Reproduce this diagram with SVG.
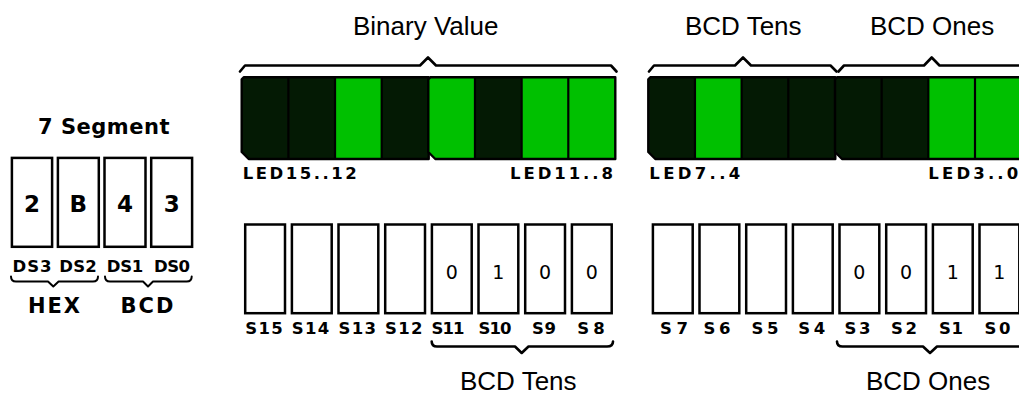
<svg xmlns="http://www.w3.org/2000/svg" width="1019" height="394" viewBox="0 0 1019 394">
<style>
.title{font-family:"Liberation Sans",Arial,sans-serif;font-size:26px;fill:#000}
.px{font-family:"DejaVu Sans","Liberation Sans",sans-serif;font-weight:bold;font-size:16.5px;fill:#000}
.big{font-family:"DejaVu Sans","Liberation Sans",sans-serif;font-weight:bold;fill:#000}
.dig{font-family:"DejaVu Sans","Liberation Sans",sans-serif;fill:#000;text-anchor:middle}
.box{fill:#fff;stroke:#000;stroke-width:2.5}
.brace{fill:none;stroke:#000;stroke-width:2.6;stroke-linejoin:round;stroke-linecap:round}
.off{fill:#041a04}
.on{fill:#00c000}
.div{stroke:#000;stroke-width:2.2}
.outline{fill:none;stroke:#000;stroke-width:2.4;stroke-linejoin:round}
</style>
<defs>
<clipPath id="ledclip"><path d="M2,0 H187 V81.7 H7 L0,74.7 V2 Z"/></clipPath>
<path id="ledshape" d="M2,0 H187 V81.7 H7 L0,74.7 V2 Z"/>
</defs>
<rect width="1019" height="394" fill="#fff"/>

<!-- titles -->
<g id="titles">
<text class="title" x="353" y="34.5">Binary Value</text>
<text class="title" x="685" y="35">BCD Tens</text>
<text class="title" x="870" y="35">BCD Ones</text>
<text class="title" x="460" y="390">BCD Tens</text>
<text class="title" x="866" y="390">BCD Ones</text>
</g>

<!-- 7 segment -->
<g id="seven-seg-title"><text class="big" x="104" y="134" font-size="21" text-anchor="middle" letter-spacing="0.5">7 Segment</text></g>
<g id="ds3"><rect class="box" x="11.9" y="157.9" width="40.2" height="88.9"/><text class="dig" x="32" y="212" font-size="23" font-weight="bold">2</text><text class="px" x="32" y="271.5" text-anchor="middle" textLength="39" lengthAdjust="spacing">DS3</text></g>
<g id="ds2"><rect class="box" x="57.9" y="157.9" width="40.9" height="88.9"/><text class="dig" x="78.3" y="212" font-size="23" font-weight="bold">B</text><text class="px" x="78" y="271.5" text-anchor="middle" textLength="37.4" lengthAdjust="spacing">DS2</text></g>
<g id="ds1"><rect class="box" x="104.5" y="157.9" width="41" height="88.9"/><text class="dig" x="125" y="212" font-size="23" font-weight="bold">4</text><text class="px" x="125" y="271.5" text-anchor="middle" textLength="36.7" lengthAdjust="spacing">DS1</text></g>
<g id="ds0"><rect class="box" x="151.2" y="157.9" width="40.9" height="88.9"/><text class="dig" x="171.7" y="212" font-size="23" font-weight="bold">3</text><text class="px" x="172" y="271.5" text-anchor="middle" textLength="36" lengthAdjust="spacing">DS0</text></g>
<g id="hex-label"><text class="big" x="55" y="313" font-size="21" text-anchor="middle" letter-spacing="2">HEX</text></g>
<g id="bcd-label"><text class="big" x="148" y="313" font-size="21" text-anchor="middle" letter-spacing="2">BCD</text></g>

<!-- LED groups -->
<g id="led15-12" transform="translate(241.7,77.3)">
<g clip-path="url(#ledclip)">
<rect class="off" x="0" y="0" width="46.67" height="82"/>
<rect class="off" x="46.67" y="0" width="46.67" height="82"/>
<rect class="on" x="93.33" y="0" width="46.67" height="82"/>
<rect class="off" x="140" y="0" width="47" height="82"/>
</g>
<line class="div" x1="46.67" y1="0" x2="46.67" y2="81.7"/>
<line class="div" x1="93.33" y1="0" x2="93.33" y2="81.7"/>
<line class="div" x1="140" y1="0" x2="140" y2="81.7"/>
<use href="#ledshape" class="outline"/>
</g>
<g id="led11-8" transform="translate(428.3,77.3)">
<g clip-path="url(#ledclip)">
<rect class="on" x="0" y="0" width="46.67" height="82"/>
<rect class="off" x="46.67" y="0" width="46.67" height="82"/>
<rect class="on" x="93.33" y="0" width="46.67" height="82"/>
<rect class="on" x="140" y="0" width="48" height="82"/>
</g>
<line class="div" x1="46.67" y1="0" x2="46.67" y2="81.7"/>
<line class="div" x1="93.33" y1="0" x2="93.33" y2="81.7"/>
<line class="div" x1="140" y1="0" x2="140" y2="81.7"/>
<use href="#ledshape" class="outline"/>
</g>
<g id="led7-4" transform="translate(648.3,77.3)">
<g clip-path="url(#ledclip)">
<rect class="off" x="0" y="0" width="46.67" height="82"/>
<rect class="on" x="46.67" y="0" width="46.67" height="82"/>
<rect class="off" x="93.33" y="0" width="46.67" height="82"/>
<rect class="off" x="140" y="0" width="47" height="82"/>
</g>
<line class="div" x1="46.67" y1="0" x2="46.67" y2="81.7"/>
<line class="div" x1="93.33" y1="0" x2="93.33" y2="81.7"/>
<line class="div" x1="140" y1="0" x2="140" y2="81.7"/>
<use href="#ledshape" class="outline"/>
</g>
<g id="led3-0" transform="translate(835,77.3)">
<g clip-path="url(#ledclip)">
<rect class="off" x="0" y="0" width="46.67" height="82"/>
<rect class="off" x="46.67" y="0" width="46.67" height="82"/>
<rect class="on" x="93.33" y="0" width="46.67" height="82"/>
<rect class="on" x="140" y="0" width="47" height="82"/>
</g>
<line class="div" x1="46.67" y1="0" x2="46.67" y2="81.7"/>
<line class="div" x1="93.33" y1="0" x2="93.33" y2="81.7"/>
<line class="div" x1="140" y1="0" x2="140" y2="81.7"/>
<use href="#ledshape" class="outline"/>
</g>
<g id="led-labels">
<text class="px" x="242.7" y="178.5" textLength="114" lengthAdjust="spacing">LED15..12</text>
<text class="px" x="510" y="178.5" textLength="103" lengthAdjust="spacing">LED11..8</text>
<text class="px" x="649.3" y="178.5" textLength="91" lengthAdjust="spacing">LED7..4</text>
<text class="px" x="928.3" y="178.5" textLength="90" lengthAdjust="spacing">LED3..0</text>
</g>

<!-- switches -->
<g id="s15"><rect class="box" x="245.2" y="224.5" width="39.8" height="88.7"/><text class="px" x="264" y="334" text-anchor="middle" textLength="37.5" lengthAdjust="spacing">S15</text></g>
<g id="s14"><rect class="box" x="291.9" y="224.5" width="39.8" height="88.7"/><text class="px" x="310.5" y="334" text-anchor="middle" textLength="37.5" lengthAdjust="spacing">S14</text></g>
<g id="s13"><rect class="box" x="338.5" y="224.5" width="39.8" height="88.7"/><text class="px" x="357.2" y="334" text-anchor="middle" textLength="37.5" lengthAdjust="spacing">S13</text></g>
<g id="s12"><rect class="box" x="385.2" y="224.5" width="39.8" height="88.7"/><text class="px" x="403.8" y="334" text-anchor="middle" textLength="37.5" lengthAdjust="spacing">S12</text></g>
<g id="s11"><rect class="box" x="431.9" y="224.5" width="39.8" height="88.7"/><text class="dig" x="451.8" y="279" font-size="19">0</text><text class="px" x="448" y="334" text-anchor="middle" textLength="33" lengthAdjust="spacing">S11</text></g>
<g id="s10"><rect class="box" x="478.5" y="224.5" width="39.8" height="88.7"/><text class="dig" x="498.4" y="279" font-size="19">1</text><text class="px" x="495" y="334" text-anchor="middle" textLength="33" lengthAdjust="spacing">S10</text></g>
<g id="s9"><rect class="box" x="525.2" y="224.5" width="39.8" height="88.7"/><text class="dig" x="545.1" y="279" font-size="19">0</text><text class="px" x="544" y="334" text-anchor="middle" textLength="24" lengthAdjust="spacing">S9</text></g>
<g id="s8"><rect class="box" x="571.9" y="224.5" width="39.8" height="88.7"/><text class="dig" x="591.8" y="279" font-size="19">0</text><text class="px" x="591" y="334" text-anchor="middle" textLength="27.5" lengthAdjust="spacing">S8</text></g>
<g id="s7"><rect class="box" x="652.9" y="224.5" width="39.8" height="88.7"/><text class="px" x="674" y="334" text-anchor="middle" textLength="28" lengthAdjust="spacing">S7</text></g>
<g id="s6"><rect class="box" x="699.5" y="224.5" width="39.8" height="88.7"/><text class="px" x="717" y="334" text-anchor="middle" textLength="27" lengthAdjust="spacing">S6</text></g>
<g id="s5"><rect class="box" x="746.2" y="224.5" width="39.8" height="88.7"/><text class="px" x="765" y="334" text-anchor="middle" textLength="27" lengthAdjust="spacing">S5</text></g>
<g id="s4"><rect class="box" x="792.9" y="224.5" width="39.8" height="88.7"/><text class="px" x="811.7" y="334" text-anchor="middle" textLength="27" lengthAdjust="spacing">S4</text></g>
<g id="s3"><rect class="box" x="839.5" y="224.5" width="39.8" height="88.7"/><text class="dig" x="859.4" y="279" font-size="19">0</text><text class="px" x="857.5" y="334" text-anchor="middle" textLength="26" lengthAdjust="spacing">S3</text></g>
<g id="s2"><rect class="box" x="886.2" y="224.5" width="39.8" height="88.7"/><text class="dig" x="906.1" y="279" font-size="19">0</text><text class="px" x="904" y="334" text-anchor="middle" textLength="26" lengthAdjust="spacing">S2</text></g>
<g id="s1"><rect class="box" x="932.9" y="224.5" width="39.8" height="88.7"/><text class="dig" x="952.8" y="279" font-size="19">1</text><text class="px" x="951" y="334" text-anchor="middle" textLength="24" lengthAdjust="spacing">S1</text></g>
<g id="s0"><rect class="box" x="979.5" y="224.5" width="39.8" height="88.7"/><text class="dig" x="999.4" y="279" font-size="19">1</text><text class="px" x="997.5" y="334" text-anchor="middle" textLength="26" lengthAdjust="spacing">S0</text></g>

<!-- braces / connectors -->
<g id="connectors">
<path class="brace" d="M240,71.5 L245,65.5 H420 L428,57.5 L436,65.5 H611 L616.5,71.5"/>
<path class="brace" d="M649,71.5 L654,65.5 H735 L743,57.5 L751,65.5 H830.5 L836.5,71.5"/>
<path class="brace" d="M838.5,71.5 L844,65.5 H924 L931.7,57.5 L939.5,65.5 H1030"/>
<path class="brace" d="M431.7,341.5 Q431.7,346.5 437,346.5 H515 L521.7,353 L528.5,346.5 H607 Q613,346.5 613,341.5"/>
<path class="brace" d="M837,341.5 Q837,346.5 842.5,346.5 H923 L930,353 L937,346.5 H1030"/>
<path class="brace" style="stroke-width:2" d="M11,276.5 Q11,281.5 16,281.5 H48 L53.3,286.5 L58.6,281.5 H93 Q98,281.5 98,276.5"/>
<path class="brace" style="stroke-width:2" d="M105,276.5 Q105,281.5 110,281.5 H143 L148,286.5 L153,281.5 H186.7 Q191.7,281.5 191.7,276.5"/>
</g>
</svg>
